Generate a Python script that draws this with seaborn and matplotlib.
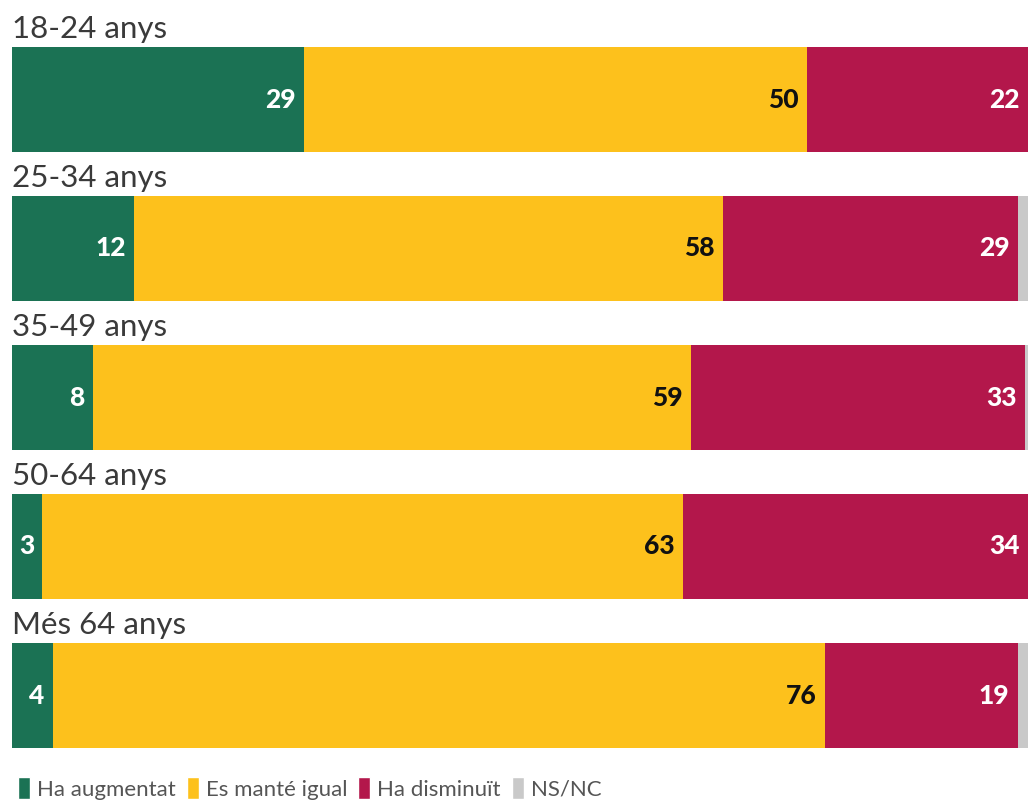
import matplotlib
matplotlib.use('Agg')
import matplotlib.pyplot as plt
import seaborn as sns
import pandas as pd
from matplotlib.patches import Patch

# Dades
grups = ['18-24 anys', '25-34 anys', '35-49 anys', '50-64 anys', 'Més 64 anys']
series = ['Ha augmentat', 'Es manté igual', 'Ha disminuït', 'NS/NC']
augmentat = [29, 12, 8, 3, 4]
igual = [50, 58, 59, 63, 76]
disminuit = [22, 29, 33, 34, 19]
nsnc = [0, 1, 0.3, 0, 1]
colors = ['#1b7254', '#fdc11c', '#b3174b', '#c9c9c9']
text_colors = ['white', '#111111', 'white', None]

sns.set_style('white')
plt.rcParams['font.family'] = ['Lato', 'DejaVu Sans']

df = pd.DataFrame({'grup': grups, series[0]: augmentat, series[1]: igual,
                   series[2]: disminuit, series[3]: nsnc})
# cada barra ocupa el 100% de l'amplada
shares = df[series].div(df[series].sum(axis=1), axis=0) * 100
cum = shares.cumsum(axis=1)
cum['grup'] = grups

fig = plt.figure(figsize=(10.3, 8.02), dpi=100)
ax = fig.add_axes([12 / 1030, 1 - 770 / 802, 1016 / 1030, 745 / 802])

# barres apilades: es dibuixen els acumulats de més gran a més petit
for s, c in reversed(list(zip(series, colors))):
    sns.barplot(data=cum, x=s, y='grup', color=c, orient='h', width=0.705,
                linewidth=0, saturation=1, ax=ax)

# etiquetes de valor
for si, s in enumerate(series):
    if text_colors[si] is None:
        continue
    for i, v in enumerate(df[s]):
        ax.annotate(str(v), xy=(cum[s][i], i), xytext=(-6, 0),
                    textcoords='offset points', ha='right', va='center',
                    fontsize=19, fontweight='black', color=text_colors[si])

# títols de cada grup
for i, g in enumerate(grups):
    ax.text(0, i - 0.475, g, ha='left', va='center', fontsize=22.5,
            fontweight='normal', color='#3a3a3a', clip_on=False)

ax.set_xlim(0, 100)
ax.set_ylim(4.5, -0.5)
ax.set_xlabel('')
ax.set_ylabel('')
ax.set_xticks([])
ax.set_yticks([])
sns.despine(ax=ax, left=True, bottom=True)

handles = [Patch(facecolor=c, label=s) for s, c in zip(series, colors)]
fig.legend(handles=handles, loc='lower left', bbox_to_anchor=(-0.002, -0.022),
           ncol=4, frameon=False, fontsize=16, handlelength=0.55,
           handleheight=1.1, handletextpad=0.3, columnspacing=0.5,
           labelcolor='#555555')

fig.savefig('out.png', dpi=100)
